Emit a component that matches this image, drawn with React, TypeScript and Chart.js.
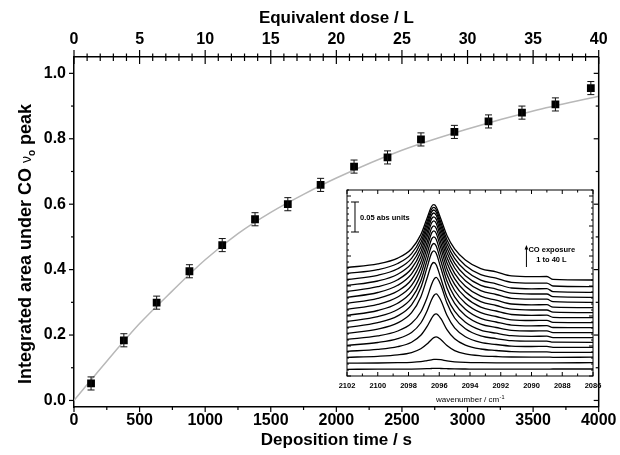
import React, { useEffect, useRef } from "react";
import { Chart, registerables } from "chart.js";

Chart.register(...registerables);

const FONT = '"Liberation Sans", Arial, Helvetica, sans-serif';

// ---------- main plot data ----------
const TIME_S = [130, 380, 630, 880, 1130, 1380, 1630, 1880, 2135, 2390, 2645, 2900, 3160, 3415, 3670, 3940];
const AREA = [0.052, 0.184, 0.299, 0.395, 0.475, 0.554, 0.6, 0.659, 0.715, 0.743, 0.798, 0.821, 0.853, 0.88, 0.905, 0.955];
const AREA_ERR = [0.02, 0.02, 0.02, 0.02, 0.02, 0.02, 0.02, 0.02, 0.02, 0.02, 0.02, 0.02, 0.02, 0.02, 0.02, 0.02];
const FIT_T = [0, 250, 500, 750, 1000, 1250, 1500, 1750, 2000, 2500, 3000, 3500, 4000];
const FIT_Y = [0, 0.12, 0.235, 0.335, 0.43, 0.51, 0.575, 0.63, 0.68, 0.765, 0.83, 0.885, 0.93];
const TIME_TICKS = [0, 500, 1000, 1500, 2000, 2500, 3000, 3500, 4000];
const DOSE_TICKS = [0, 5, 10, 15, 20, 25, 30, 35, 40];
const AREA_TICKS = [0, 0.2, 0.4, 0.6, 0.8, 1.0];

// ---------- inset data (stacked IR spectra, offset units; 30 units = 0.05 abs) ----------
const WAVENUMBERS = [2102, 2100, 2098.7, 2097.8, 2097.2, 2096.8, 2096.5, 2096.35, 2096.2, 2095.9, 2095.5, 2095.0, 2094.3, 2093.3, 2092.3, 2091.3, 2090.0, 2089.0, 2088.6, 2086];
const SPECTRUM_01 = [6.7, 6.8, 6.8, 6.9, 7.1, 7.3, 7.5, 7.6, 7.6, 7.5, 7.3, 7.1, 7.0, 6.9, 6.9, 6.9, 6.9, 6.9, 7.0, 7.0];
const SPECTRUM_02 = [12.8, 13.0, 13.3, 13.7, 14.4, 15.4, 16.2, 16.6, 16.7, 16.3, 15.1, 14.2, 13.6, 13.3, 13.2, 13.2, 13.2, 13.2, 13.2, 13.3];
const SPECTRUM_03 = [18.7, 19.7, 21.1, 23.4, 27.2, 31.9, 36.6, 38.4, 39.1, 36.5, 30.4, 25.4, 22.1, 20.2, 19.5, 19.0, 18.9, 18.9, 18.7, 18.8];
const SPECTRUM_04 = [24.7, 26.6, 29.3, 33.8, 40.7, 49.3, 57.7, 61.0, 62.2, 57.6, 46.4, 37.2, 30.9, 27.0, 25.5, 24.4, 24.2, 24.2, 23.7, 23.7];
const SPECTRUM_05 = [30.7, 33.5, 37.4, 43.6, 53.0, 64.7, 76.2, 80.5, 82.2, 75.8, 60.7, 48.1, 39.3, 33.6, 31.5, 29.9, 29.5, 29.6, 28.7, 28.7];
const SPECTRUM_06 = [36.6, 40.1, 45.0, 52.7, 64.0, 78.0, 91.5, 96.6, 98.6, 91.0, 73.0, 58.0, 47.2, 40.1, 37.4, 35.3, 34.8, 34.9, 33.8, 33.7];
const SPECTRUM_07 = [42.6, 46.9, 53.1, 63.3, 79.1, 97.5, 111.4, 113.5, 111.3, 97.7, 79.0, 64.8, 53.8, 45.9, 42.8, 40.3, 39.7, 39.8, 38.4, 38.3];
const SPECTRUM_08 = [48.6, 53.3, 60.1, 71.2, 88.2, 108.1, 122.9, 125.2, 122.8, 108.2, 88.1, 72.7, 60.6, 51.9, 48.5, 45.6, 45.0, 45.1, 43.4, 43.3];
const SPECTRUM_09 = [54.6, 59.4, 66.5, 77.9, 95.1, 115.2, 130.1, 132.5, 130.0, 115.2, 94.9, 79.2, 66.8, 57.6, 54.0, 50.9, 50.2, 50.3, 48.5, 48.3];
const SPECTRUM_10 = [60.6, 65.5, 72.8, 84.3, 101.8, 121.9, 136.9, 139.2, 136.8, 121.9, 101.5, 85.5, 72.8, 63.3, 59.5, 56.2, 55.5, 55.6, 53.6, 53.3];
const SPECTRUM_11 = [66.6, 71.6, 79.0, 90.6, 108.0, 128.0, 142.9, 145.2, 142.8, 128.0, 107.6, 91.6, 78.7, 68.9, 65.0, 61.5, 60.7, 60.8, 58.7, 58.3];
const SPECTRUM_12 = [72.6, 77.6, 85.0, 96.5, 113.7, 133.3, 147.9, 150.2, 147.8, 133.3, 113.2, 97.4, 84.3, 74.4, 70.5, 66.8, 66.0, 66.0, 63.8, 63.3];
const SPECTRUM_13 = [78.6, 83.5, 90.7, 102.1, 119.1, 138.6, 153.0, 155.2, 152.8, 138.4, 118.5, 102.7, 89.8, 79.8, 75.9, 72.0, 71.2, 71.3, 68.8, 68.3];
const SPECTRUM_14 = [84.6, 89.3, 96.3, 107.5, 124.1, 143.0, 157.1, 159.2, 156.9, 142.9, 123.4, 108.0, 95.2, 85.4, 81.5, 77.6, 76.8, 76.8, 74.3, 73.7];
const SPECTRUM_15 = [90.6, 95.0, 101.8, 112.6, 128.8, 147.2, 160.9, 163.0, 160.7, 147.0, 128.0, 112.9, 100.3, 90.7, 86.9, 82.8, 82.0, 82.0, 79.3, 78.7];
const SPECTRUM_16 = [96.5, 100.7, 107.2, 117.6, 133.2, 150.9, 164.0, 166.0, 163.8, 150.6, 132.3, 117.7, 105.5, 95.9, 92.2, 88.0, 87.2, 87.3, 84.4, 83.7];
const SPECTRUM_17 = [102.5, 106.4, 112.5, 122.4, 137.2, 154.1, 166.7, 168.6, 166.5, 153.8, 136.3, 122.3, 110.6, 101.4, 97.8, 93.7, 92.9, 92.9, 90.0, 89.3];
const SPECTRUM_18 = [108.5, 112.1, 117.9, 127.3, 141.4, 157.5, 169.5, 171.3, 169.3, 157.2, 140.5, 127.2, 116.1, 107.4, 104.2, 100.1, 99.4, 99.5, 96.6, 96.0];
const SPECTRA = [
  SPECTRUM_01, SPECTRUM_02, SPECTRUM_03, SPECTRUM_04, SPECTRUM_05, SPECTRUM_06,
  SPECTRUM_07, SPECTRUM_08, SPECTRUM_09, SPECTRUM_10, SPECTRUM_11, SPECTRUM_12,
  SPECTRUM_13, SPECTRUM_14, SPECTRUM_15, SPECTRUM_16, SPECTRUM_17, SPECTRUM_18,
];
const WAVENUMBER_TICKS = [2102, 2100, 2098, 2096, 2094, 2092, 2090, 2088, 2086];
const SCALE_BAR_UNITS = 30; // = 0.05 abs units

function seg(ctx: CanvasRenderingContext2D, x1: number, y1: number, x2: number, y2: number) {
  ctx.beginPath();
  ctx.moveTo(x1, y1);
  ctx.lineTo(x2, y2);
  ctx.stroke();
}

const mainDecor = {
  id: "mainDecor",
  afterDatasetsDraw(chart: any) {
    const { ctx, scales } = chart;
    const x = scales.x;
    const y = scales.y;
    ctx.save();
    ctx.strokeStyle = "#111";
    ctx.lineWidth = 1;
    for (let i = 0; i < TIME_S.length; i++) {
      const px = x.getPixelForValue(TIME_S[i]);
      const pt = y.getPixelForValue(AREA[i] + AREA_ERR[i]);
      const pb = y.getPixelForValue(AREA[i] - AREA_ERR[i]);
      seg(ctx, px, pt, px, pb);
      seg(ctx, px - 3.5, pt, px + 3.5, pt);
      seg(ctx, px - 3.5, pb, px + 3.5, pb);
    }
    ctx.restore();
  },
  afterDraw(chart: any) {
    const { ctx, chartArea: a, scales } = chart;
    const x = scales.x;
    const x2 = scales.x2;
    const y = scales.y;
    ctx.save();
    ctx.strokeStyle = "#000";
    ctx.lineWidth = 1.5;
    seg(ctx, a.right, a.top, a.right, a.bottom);
    ctx.lineWidth = 1.2;
    for (let i = 0; i <= 10; i++) {
      const v = i / 10;
      const py = y.getPixelForValue(v);
      const major = i % 2 === 0;
      const len = major ? 5 : 3;
      seg(ctx, a.left - len, py, a.left, py);
      seg(ctx, a.right - len, py, a.right, py);
    }
    for (let t = 0; t <= 4000; t += 250) {
      const px = x.getPixelForValue(t);
      const len = t % 500 === 0 ? 5 : 3;
      seg(ctx, px, a.bottom, px, a.bottom + len);
    }
    for (let d = 0; d <= 40; d += 1) {
      const px = x2.getPixelForValue(d);
      if (d % 5 === 0) seg(ctx, px, a.top - 7, px, a.top + 7);
      else seg(ctx, px, a.top - 3.5, px, a.top + 4);
    }
    // y-axis title with Greek nu and subscript o
    ctx.fillStyle = "#000";
    ctx.translate(24, 244);
    ctx.rotate(-Math.PI / 2);
    const parts = [
      { t: "Integrated area under CO ", f: `bold 18px ${FONT}`, dy: 0 },
      { t: "\u03bd", f: `14px ${FONT}`, dy: 0 },
      { t: "o", f: `bold 10px ${FONT}`, dy: 4 },
      { t: " peak", f: `bold 18px ${FONT}`, dy: 0 },
    ];
    let total = 0;
    for (const p of parts) {
      ctx.font = p.f;
      total += ctx.measureText(p.t).width;
    }
    let cx = -total / 2;
    ctx.textBaseline = "alphabetic";
    ctx.textAlign = "left";
    for (const p of parts) {
      ctx.font = p.f;
      ctx.fillText(p.t, cx, 6.5 + p.dy);
      cx += ctx.measureText(p.t).width;
    }
    ctx.restore();
  },
};

const insetDecor = {
  id: "insetDecor",
  afterDraw(chart: any) {
    const { ctx, chartArea: a, scales } = chart;
    const x = scales.x;
    const y = scales.y;
    ctx.save();
    ctx.strokeStyle = "#000";
    ctx.fillStyle = "#000";
    ctx.lineWidth = 1;
    ctx.strokeRect(a.left, a.top, a.right - a.left, a.bottom - a.top);
    for (let w = 2086; w <= 2102; w += 1) {
      const px = x.getPixelForValue(w);
      const len = w % 2 === 0 ? 4 : 2.5;
      seg(ctx, px, a.bottom, px, a.bottom - len);
      seg(ctx, px, a.top, px, a.top + len);
    }
    for (let v = 0; v <= 186; v += 6) {
      const py = y.getPixelForValue(v);
      const len = v % 30 === 0 ? 4 : 2;
      seg(ctx, a.left, py, a.left + len, py);
      seg(ctx, a.right, py, a.right - len, py);
    }
    ctx.font = `bold 7.5px ${FONT}`;
    ctx.textAlign = "center";
    ctx.textBaseline = "middle";
    for (const w of WAVENUMBER_TICKS) {
      ctx.fillText(String(w), x.getPixelForValue(w), a.bottom + 10);
    }
    ctx.font = `8px ${FONT}`;
    const t1 = "wavenumber / cm";
    const w1 = ctx.measureText(t1).width;
    ctx.font = `5.5px ${FONT}`;
    const w2 = ctx.measureText("-1").width;
    const cx = (a.left + a.right) / 2 - (w1 + w2) / 2;
    ctx.textAlign = "left";
    ctx.font = `8px ${FONT}`;
    ctx.fillText(t1, cx, a.bottom + 24);
    ctx.font = `5.5px ${FONT}`;
    ctx.fillText("-1", cx + w1 + 0.5, a.bottom + 21);

    // scale bar
    const sbx = x.getPixelForValue(2101.48);
    const sbTop = y.getPixelForValue(174);
    const sbBot = y.getPixelForValue(174 - SCALE_BAR_UNITS);
    ctx.lineWidth = 1;
    seg(ctx, sbx, sbTop, sbx, sbBot);
    seg(ctx, sbx - 4, sbTop, sbx + 4, sbTop);
    seg(ctx, sbx - 4, sbBot, sbx + 4, sbBot);
    ctx.font = `bold 7.5px ${FONT}`;
    ctx.textAlign = "left";
    ctx.textBaseline = "middle";
    ctx.fillText("0.05 abs units", x.getPixelForValue(2101.15), y.getPixelForValue(158));

    // CO exposure arrow
    const ax = x.getPixelForValue(2090.33);
    const aTop = y.getPixelForValue(131);
    const aBot = y.getPixelForValue(109);
    seg(ctx, ax, aBot, ax, aTop + 2);
    ctx.beginPath();
    ctx.moveTo(ax, aTop);
    ctx.lineTo(ax - 1.8, aTop + 4.5);
    ctx.lineTo(ax + 1.8, aTop + 4.5);
    ctx.closePath();
    ctx.fill();
    ctx.fillText("CO exposure", x.getPixelForValue(2090.2), y.getPixelForValue(126.5));
    ctx.textAlign = "center";
    ctx.fillText("1 to 40 L", x.getPixelForValue(2088.7), y.getPixelForValue(116));
    ctx.restore();
  },
};

function MainChart() {
  const ref = useRef<HTMLCanvasElement>(null);
  useEffect(() => {
    const canvas = ref.current as HTMLCanvasElement;
    const tickFont = { family: FONT, size: 16, weight: "bold" as const };
    const titleFont = { family: FONT, size: 17, weight: "bold" as const };
    const chart = new Chart(canvas, {
      type: "scatter",
      data: {
        datasets: [
          {
            label: "fit",
            data: FIT_T.map((t, i) => ({ x: t, y: FIT_Y[i] })),
            showLine: true,
            borderColor: "#b8b8b8",
            borderWidth: 1.5,
            pointRadius: 0,
            cubicInterpolationMode: "monotone",
            xAxisID: "x",
            yAxisID: "y",
            order: 3,
          } as any,
          {
            label: "data",
            data: TIME_S.map((t, i) => ({ x: t, y: AREA[i] })),
            pointStyle: "rect",
            pointRadius: 5.5,
            backgroundColor: "#000",
            borderColor: "#000",
            borderWidth: 0,
            xAxisID: "x",
            yAxisID: "y",
            order: 1,
          } as any,
        ],
      },
      options: {
        responsive: false,
        animation: false,
        events: [],
        layout: { padding: { left: 0, right: 15, top: 0, bottom: 0 } },
        plugins: { legend: { display: false }, tooltip: { enabled: false } },
        scales: {
          x: {
            type: "linear",
            position: "bottom",
            min: 0,
            max: 4000,
            afterBuildTicks: (s: any) => {
              s.ticks = TIME_TICKS.map((v) => ({ value: v }));
            },
            afterFit: (s: any) => {
              s.height = 48;
            },
            grid: { display: false, drawTicks: false },
            border: { display: true, color: "#000", width: 1.5 },
            ticks: {
              color: "#000",
              font: tickFont,
              padding: 3.5,
              maxRotation: 0,
              autoSkip: false,
              callback: (v: any) => String(v),
            },
            title: {
              display: true,
              text: "Deposition time / s",
              color: "#000",
              font: titleFont,
              padding: { top: 0, bottom: 4.5 },
            },
          },
          x2: {
            type: "linear",
            position: "top",
            min: 0,
            max: 40,
            afterBuildTicks: (s: any) => {
              s.ticks = DOSE_TICKS.map((v) => ({ value: v }));
            },
            afterFit: (s: any) => {
              s.height = 57;
            },
            grid: { display: false, drawTicks: false },
            border: { display: true, color: "#000", width: 1.5 },
            ticks: {
              color: "#000",
              font: tickFont,
              padding: 7.5,
              maxRotation: 0,
              autoSkip: false,
              callback: (v: any) => String(v),
            },
            title: {
              display: true,
              text: "Equivalent dose / L",
              color: "#000",
              font: titleFont,
              padding: { top: 8.5, bottom: 0 },
            },
          },
          y: {
            type: "linear",
            position: "left",
            min: -0.02,
            max: 1.05,
            afterBuildTicks: (s: any) => {
              s.ticks = AREA_TICKS.map((v) => ({ value: v }));
            },
            afterFit: (s: any) => {
              s.width = 74;
            },
            grid: { display: false, drawTicks: false },
            border: { display: true, color: "#000", width: 1.5 },
            ticks: {
              color: "#000",
              font: tickFont,
              padding: 8,
              callback: (v: any) => Number(v).toFixed(1),
            },
          },
        },
      } as any,
      plugins: [mainDecor],
    });
    return () => chart.destroy();
  }, []);
  return (
    <canvas
      ref={ref}
      width={620}
      height={455}
      style={{ position: "absolute", left: 0, top: 0, width: 620, height: 455 }}
    />
  );
}

function InsetChart() {
  const ref = useRef<HTMLCanvasElement>(null);
  useEffect(() => {
    const canvas = ref.current as HTMLCanvasElement;
    const chart = new Chart(canvas, {
      type: "scatter",
      data: {
        datasets: SPECTRA.map((s, k) => ({
          label: `spectrum ${k + 1}`,
          data: WAVENUMBERS.map((w, i) => ({ x: w, y: s[i] })),
          showLine: true,
          borderColor: "#000",
          borderWidth: 1.3,
          pointRadius: 0,
          cubicInterpolationMode: "monotone",
        })) as any,
      },
      options: {
        responsive: false,
        animation: false,
        events: [],
        layout: { padding: { left: 17, right: 27, top: 10, bottom: 34 } },
        plugins: { legend: { display: false }, tooltip: { enabled: false } },
        scales: {
          x: { type: "linear", min: 2086, max: 2102, reverse: true, display: false },
          y: { type: "linear", min: 0, max: 186, display: false },
        },
      } as any,
      plugins: [insetDecor],
    });
    return () => chart.destroy();
  }, []);
  return (
    <canvas
      ref={ref}
      width={290}
      height={230}
      style={{ position: "absolute", left: 330, top: 180, width: 290, height: 230 }}
    />
  );
}

export default function App() {
  return (
    <div
      style={{
        position: "fixed",
        left: 0,
        top: 0,
        width: 620,
        height: 455,
        background: "#fff",
        overflow: "hidden",
      }}
    >
      <MainChart />
      <InsetChart />
    </div>
  );
}
